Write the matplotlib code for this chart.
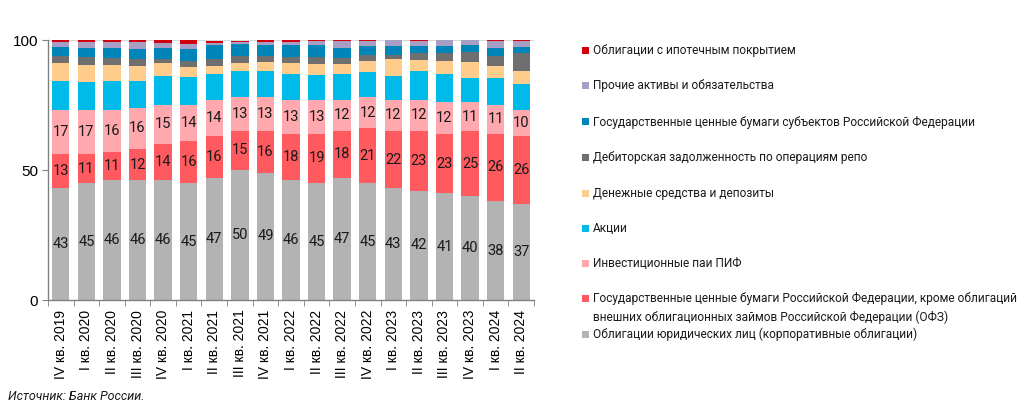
import matplotlib
matplotlib.use("Agg")
import matplotlib.pyplot as plt
from matplotlib.patches import Rectangle
import numpy as np

categories = ["IV кв. 2019", "I кв. 2020", "II кв. 2020", "III кв. 2020", "IV кв. 2020",
              "I кв. 2021", "II кв. 2021", "III кв. 2021", "IV кв. 2021",
              "I кв. 2022", "II кв. 2022", "III кв. 2022", "IV кв. 2022",
              "I кв. 2023", "II кв. 2023", "III кв. 2023", "IV кв. 2023",
              "I кв. 2024", "II кв. 2024"]

corp = [43, 45, 46, 46, 46, 45, 47, 50, 49, 46, 45, 47, 45, 43, 42, 41, 40, 38, 37]
ofz = [13, 11, 11, 12, 14, 16, 16, 15, 16, 18, 19, 18, 21, 22, 23, 23, 25, 26, 26]
pif = [17, 17, 16, 16, 15, 14, 14, 13, 13, 13, 13, 12, 12, 12, 12, 12, 11, 11, 10]
shares = [11.3, 11.0, 11.4, 10.4, 11.2, 10.9, 10.0, 9.9, 10.1, 9.9, 9.6, 10.1, 9.8, 9.3, 11.2, 10.8, 9.3, 10.3, 10.2]
cash = [6.8, 6.4, 6.0, 5.6, 5.1, 3.6, 2.9, 3.3, 3.3, 4.2, 4.1, 3.5, 4.2, 6.2, 4.0, 5.0, 6.2, 4.7, 5.0]
repo = [2.7, 2.9, 2.7, 2.7, 1.5, 2.4, 2.6, 2.6, 2.6, 2.3, 2.6, 2.6, 2.4, 1.9, 2.8, 3.3, 3.8, 4.0, 6.8]
subj = [3.6, 3.5, 3.7, 3.8, 4.2, 4.6, 5.4, 4.8, 4.1, 4.7, 4.9, 3.8, 3.2, 3.1, 2.8, 2.4, 2.6, 3.1, 2.2]
other = [1.8, 2.5, 2.3, 2.6, 1.9, 1.8, 1.0, 0.6, 1.3, 1.3, 1.3, 2.6, 2.0, 2.4, 1.9, 2.4, 2.1, 2.7, 2.6]
mortgage = [1.3, 0.9, 0.9, 0.9, 1.3, 1.7, 0.9, 0.6, 0.6, 0.5, 0.5, 0.3, 0.4, 0.1, 0.5, 0.1, 0.1, 0.4, 0.1]

series_names = [
    "Облигации юридических лиц (корпоративные облигации)",
    "Государственные ценные бумаги Российской Федерации, кроме облигаций\nвнешних облигационных займов Российской Федерации (ОФЗ)",
    "Инвестиционные паи ПИФ",
    "Акции",
    "Денежные средства и депозиты",
    "Дебиторская задолженность по операциям репо",
    "Государственные ценные бумаги субъектов Российской Федерации",
    "Прочие активы и обязательства",
    "Облигации с ипотечным покрытием",
]
series_values = [corp, ofz, pif, shares, cash, repo, subj, other, mortgage]
colors = ["#B3B3B3", "#FF5A5F", "#FFA8AE", "#00BBEA", "#FFCC8B",
          "#6F6F6F", "#0085B8", "#A89DC2", "#D2000F"]
labeled = [True, True, True, False, False, False, False, False, False]

LEG_FONT = ["Roboto", "DejaVu Sans"]
TICK_FONT = ["Liberation Sans", "DejaVu Sans"]

fig = plt.figure(figsize=(10.24, 4.15), dpi=100)
ax = fig.add_axes([48 / 1024, 115 / 415, (534 - 48) / 1024, 260 / 415])

x = np.arange(len(categories))
bottom = np.zeros(len(categories))
for vals, col, lab in zip(series_values, colors, labeled):
    v = np.array(vals, dtype=float)
    ax.bar(x, v, bottom=bottom, width=0.68, color=col, edgecolor="none", zorder=2)
    if lab:
        for xi, b, h in zip(x, bottom, v):
            ax.text(xi, b + h / 2, f"{int(round(h))}", ha="center", va="center",
                    fontsize=10.5, color="#1a1a1a", family=LEG_FONT, zorder=3)
    bottom += v

ax.set_xlim(-0.5, len(categories) - 0.5)
ax.set_ylim(0, 100)
ax.axhline(100, color="#d9d9d9", lw=0.8, zorder=1)

ax.set_yticks([0, 50, 100])
ax.set_yticklabels(["0", "50", "100"], family=TICK_FONT, fontsize=11)
ax.set_xticks(x)
ax.set_xticklabels(categories, rotation=90, family=TICK_FONT, fontsize=10)
ax.set_xticks(np.arange(-0.5, len(categories), 1), minor=True)
ax.tick_params(axis="x", which="major", length=0, pad=7)
ax.tick_params(axis="x", which="minor", length=4, color="#808080", direction="out")
ax.tick_params(axis="y", length=4, color="#808080", direction="out", pad=3)

for s in ["top", "right"]:
    ax.spines[s].set_visible(False)
for s in ["left", "bottom"]:
    ax.spines[s].set_color("#808080")
    ax.spines[s].set_linewidth(1.0)

# legend (manual, top-down order)
leg_y = [50.7, 86, 122, 157, 193, 228.3, 263.7, 298.7, 334.7]
order = list(range(len(series_names)))[::-1]
LFS = 8.6
for yy, i in zip(leg_y, order):
    fig.patches.append(Rectangle((582 / 1024, 1 - (yy + 3.5) / 415), 7 / 1024, 7 / 415,
                                 transform=fig.transFigure, facecolor=colors[i],
                                 edgecolor="none"))
    lines = series_names[i].split("\n")
    for k, line in enumerate(lines):
        fig.text(593 / 1024, 1 - (yy + 18.6 * k) / 415, line, ha="left", va="center",
                 fontsize=LFS, family=LEG_FONT, color="#1a1a1a")

fig.text(8 / 1024, 1 - 396 / 415, "Источник: Банк России.", ha="left", va="center",
         fontsize=9, style="italic", family=LEG_FONT, color="#1a1a1a")

fig.savefig("out.png", dpi=100, facecolor="white")
